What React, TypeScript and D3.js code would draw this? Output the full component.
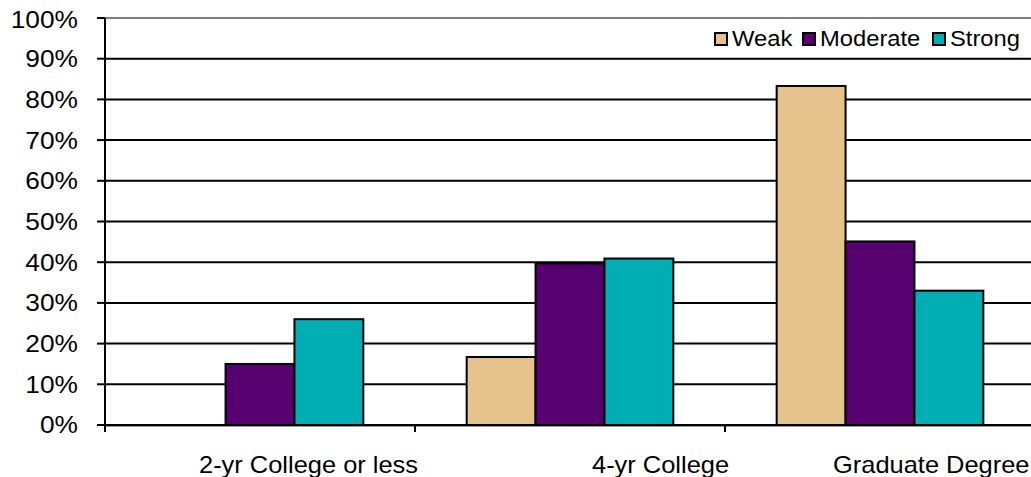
import React from 'react';
import * as d3 from 'd3';

const categories = ['2-yr College or less', '4-yr College', 'Graduate Degree'];
const seriesNames = ['Weak', 'Moderate', 'Strong'];
const weakValues = [0, 16.7, 83.3];
const moderateValues = [15.0, 39.7, 45.1];
const strongValues = [26.0, 40.9, 33.0];
const yTickValues = [0, 10, 20, 30, 40, 50, 60, 70, 80, 90, 100];
const seriesColors = ['#E6C38C', '#57006F', '#00AEB4'];

const W = 1031;
const H = 477;
const plotLeft = 105;
const plotRight = 1035;
const plotTop = 18;
const plotBottom = 425;
const FONT = 'Liberation Sans, Arial, sans-serif';

// label start x (left edge) per category, relative to category start
const labelStart = [94, 177, 108];

export default function App() {
  const seriesValues = [weakValues, moderateValues, strongValues];
  const y = d3.scaleLinear().domain([0, 100]).range([plotBottom, plotTop]);
  const x0 = d3.scaleBand<string>().domain(categories).range([plotLeft, plotRight]).padding(0);
  const x1 = d3
    .scaleBand<string>()
    .domain(seriesNames)
    .range([0, x0.bandwidth()])
    .paddingInner(0)
    .paddingOuter(0.75);

  const catTicks = categories.map((c) => x0(c) as number);

  return (
    <svg
      width={W}
      height={H}
      style={{ position: 'absolute', left: 0, top: 0, background: '#fff' }}
      fontFamily={FONT}
    >
      {/* gridlines */}
      {yTickValues.map((t) => (
        <line
          key={'g' + t}
          x1={plotLeft}
          x2={W}
          y1={y(t)}
          y2={y(t)}
          stroke={t === 100 ? '#808080' : '#000'}
          strokeWidth={2}
        />
      ))}
      <line x1={plotLeft} x2={W} y1={plotBottom + 1.5} y2={plotBottom + 1.5} stroke="#9a9a9a" strokeWidth={1} />
      {/* bars */}
      {categories.map((c, ci) => (
        <g key={c} transform={`translate(${x0(c)},0)`}>
          {seriesNames.map((s, si) => {
            const v = seriesValues[si][ci];
            if (v <= 0) return null;
            return (
              <rect
                key={s}
                x={x1(s)}
                y={y(v)}
                width={x1.bandwidth()}
                height={y(0) - y(v)}
                fill={seriesColors[si]}
                stroke="#000"
                strokeWidth={2}
              />
            );
          })}
        </g>
      ))}
      {/* y axis */}
      <line x1={plotLeft} x2={plotLeft} y1={plotTop} y2={plotBottom + 7} stroke="#000" strokeWidth={2} />
      {yTickValues.map((t) => (
        <g key={'t' + t}>
          <line x1={plotLeft - 8} x2={plotLeft} y1={y(t)} y2={y(t)} stroke="#000" strokeWidth={2} />
          <text
            transform={`translate(78,${y(t) + (t === 100 ? 2 : 0)}) scale(1.12,1)`}
            textAnchor="end"
            dominantBaseline="central"
            fontSize={23.5}
            fill="#000"
          >
            {t + '%'}
          </text>
        </g>
      ))}
      {/* x axis */}
      <line x1={plotLeft} x2={W} y1={plotBottom} y2={plotBottom} stroke="#000" strokeWidth={2} />
      {catTicks.map((cx, i) => (
        <line key={'ct' + i} x1={cx} x2={cx} y1={plotBottom} y2={plotBottom + 7} stroke="#000" strokeWidth={2} />
      ))}
      {categories.map((c, i) => (
        <text
          key={'cl' + c}
          transform={`translate(${(x0(c) as number) + labelStart[i]},473) scale(1.06,1)`}
          fontSize={24}
          fill="#000"
        >
          {c}
        </text>
      ))}
      {/* legend */}
      {(() => {
        const itemX = [715, 803, 933];
        return seriesNames.map((s, i) => (
          <g key={'lg' + s}>
            <rect x={itemX[i]} y={33} width={12} height={12} fill={seriesColors[i]} stroke="#000" strokeWidth={2} />
            <text
              transform={`translate(${itemX[i] + 17},46) scale(1.08,1)`}
              fontSize={22}
              fill="#000"
            >
              {s}
            </text>
          </g>
        ));
      })()}
    </svg>
  );
}
